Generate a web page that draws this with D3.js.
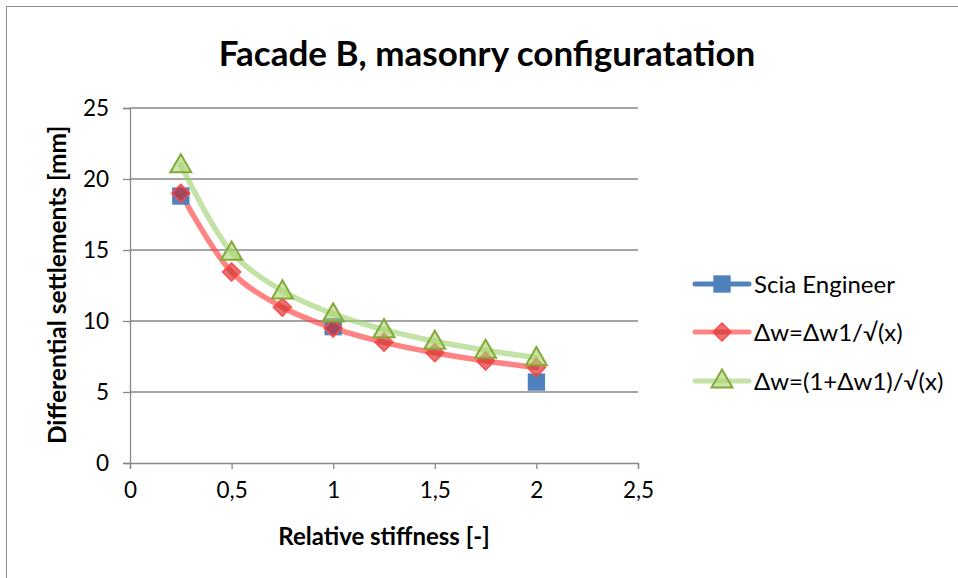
<!DOCTYPE html>
<html><head><meta charset="utf-8">
<script src="https://cdn.jsdelivr.net/npm/d3@7"></script>
<style>body{margin:0;background:#fff}svg{display:block;font-family:Lato,"Open Sans",sans-serif}</style>
</head><body><svg id="c" width="958" height="578"></svg>
<script>
const xTicks = [0, 0.5, 1, 1.5, 2, 2.5];
const xTickLabels = ["0", "0,5", "1", "1,5", "2", "2,5"];
const yTicks = [0, 5, 10, 15, 20, 25];
const sciaX = [0.25, 1, 2];
const sciaY = [18.8, 9.6, 5.7];
const formX = [0.25, 0.5, 0.75, 1, 1.25, 1.5, 1.75, 2];
const redY = [19.0, 13.45, 10.97, 9.5, 8.5, 7.76, 7.18, 6.72];
const greenY = [21.0, 14.85, 12.12, 10.5, 9.39, 8.57, 7.94, 7.42];
const seriesNames = ["Scia Engineer", "Δw=Δw1/√(x)", "Δw=(1+Δw1)/√(x)"];

const svg = d3.select("#c");
svg.append("rect").attr("x",6.5).attr("y",6.5).attr("width",1000).attr("height",1000)
  .attr("fill","none").attr("stroke","#8c8c8c").attr("stroke-width",1);

const x = d3.scaleLinear().domain([0,2.5]).range([130,638]);
const y = d3.scaleLinear().domain([0,25]).range([463,108]);

svg.append("g").selectAll("line").data(yTicks.filter(d=>d>0)).join("line")
  .attr("x1",x(0)).attr("x2",x(2.5)).attr("y1",d=>y(d)).attr("y2",d=>y(d))
  .attr("stroke","#878787").attr("stroke-width",1.3);

const xa = svg.append("g").attr("transform",`translate(0,${y(0)})`)
  .call(d3.axisBottom(x).tickValues(xTicks).tickFormat((d,i)=>xTickLabels[i]).tickSize(6).tickPadding(10));
const ya = svg.append("g").attr("transform",`translate(${x(0)},0)`)
  .call(d3.axisLeft(y).tickValues(yTicks).tickSize(7).tickPadding(14));
[xa,ya].forEach(a=>{
  a.select(".domain").attr("stroke","#878787").attr("stroke-width",1.3);
  a.selectAll(".tick line").attr("stroke","#878787").attr("stroke-width",1.3);
  a.selectAll("text").attr("font-size",22.5).attr("fill","#000").attr("font-family","Lato,sans-serif");
});
xa.selectAll("text").attr("dy","0.85em");

const line = d3.line().x(d=>x(d[0])).y(d=>y(d[1])).curve(d3.curveCatmullRom.alpha(0.5));
const redPts = formX.map((v,i)=>[v,redY[i]]);
const greenPts = formX.map((v,i)=>[v,greenY[i]]);
const sciaPts = sciaX.map((v,i)=>[v,sciaY[i]]);

svg.append("path").datum(redPts).attr("d",line).attr("fill","none")
  .attr("stroke","#ff4040").attr("stroke-opacity",0.65).attr("stroke-width",5.5).attr("stroke-linecap","round");
svg.append("path").datum(greenPts).attr("d",line).attr("fill","none")
  .attr("stroke","#9bd16a").attr("stroke-opacity",0.6).attr("stroke-width",5.5).attr("stroke-linecap","round");

const sq = d3.symbol().type(d3.symbolSquare).size(300);
const diaPath = "M0,-9L9,0L0,9L-9,0Z";
const tri = d3.symbol().type(d3.symbolTriangle).size(190);

function drawBlue(g, px, py){ g.append("path").attr("d",sq()).attr("transform",`translate(${px},${py})`).attr("fill","#4f81bd"); }
function drawRed(g, px, py){ g.append("path").attr("d",diaPath).attr("transform",`translate(${px},${py})`)
  .attr("fill","#d42a2a").attr("fill-opacity",0.65).attr("stroke","#ff4a4a").attr("stroke-width",1.5); }
function drawGreen(g, px, py){ g.append("path").attr("d",tri()).attr("transform",`translate(${px},${py+1.5})`)
  .attr("fill","#a9d46e").attr("fill-opacity",0.6).attr("stroke","#86a83a").attr("stroke-width",2); }

const mk = svg.append("g");
sciaPts.forEach(d=>drawBlue(mk,x(d[0]),y(d[1])));
redPts.forEach(d=>drawRed(mk,x(d[0]),y(d[1])));
greenPts.forEach(d=>drawGreen(mk,x(d[0]),y(d[1])));

const lg = svg.append("g");
const ly = [284, 332, 381];
const lcols = [["#4f81bd",1],["#ff4040",0.65],["#9bd16a",0.6]];
ly.forEach((yy,i)=>{
  lg.append("line").attr("x1",695).attr("x2",749).attr("y1",yy).attr("y2",yy)
    .attr("stroke",lcols[i][0]).attr("stroke-opacity",lcols[i][1]).attr("stroke-width",5).attr("stroke-linecap","round");
  if(i===0) drawBlue(lg,722,yy); else if(i===1) drawRed(lg,722,yy); else drawGreen(lg,722,yy-1);
  lg.append("text").attr("x",754).attr("y",yy).attr("dy","0.36em").attr("font-size",24).text(seriesNames[i]);
});

svg.append("text").attr("x",487).attr("y",66).attr("text-anchor","middle")
  .attr("font-size",35).attr("font-weight","bold").text("Facade B, masonry configuratation");
svg.append("text").attr("x",384).attr("y",545).attr("text-anchor","middle")
  .attr("font-size",24).attr("font-weight","bold").text("Relative stiffness [-]");
svg.append("text").attr("transform","translate(66,285) rotate(-90)").attr("text-anchor","middle")
  .attr("font-size",24.5).attr("font-weight","bold").text("Differential settlements [mm]");
</script></body></html>
